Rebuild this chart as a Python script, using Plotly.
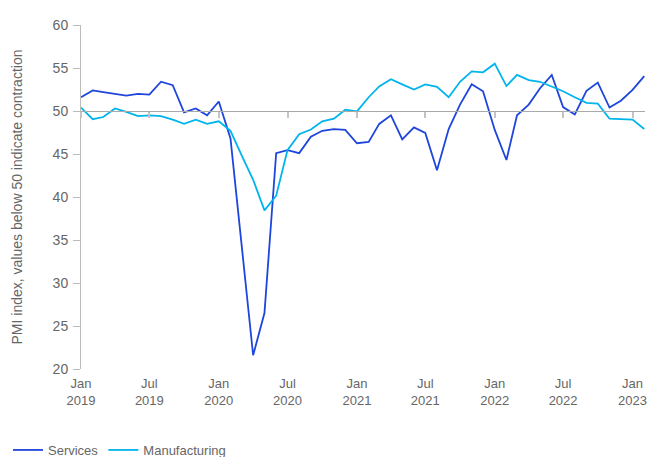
import plotly.graph_objects as go
import pandas as pd

months = pd.date_range("2019-01-01", "2023-02-01", freq="MS")

services = [
    51.6, 52.4, 52.2, 52.0, 51.8, 52.0, 51.9, 53.4, 53.0, 49.85, 50.3, 49.5,
    51.1, 46.8, 35.0, 21.6, 26.5, 45.1, 45.45, 45.1, 47.0, 47.7, 47.9, 47.8,
    46.25, 46.4, 48.5, 49.5, 46.7, 48.1, 47.45, 43.1, 47.9, 50.75, 53.1, 52.3,
    47.8, 44.3, 49.5, 50.75, 52.65, 54.2, 50.45, 49.6, 52.35, 53.3, 50.4, 51.2,
    52.45, 54.05,
]
manufacturing = [
    50.4, 49.05, 49.3, 50.3, 49.9, 49.4, 49.5, 49.4, 49.0, 48.5, 49.0, 48.5,
    48.8, 47.7, 44.9, 42.0, 38.45, 40.15, 45.45, 47.3, 47.85, 48.8, 49.1, 50.15,
    49.95, 51.6, 52.85, 53.7, 53.1, 52.5, 53.1, 52.8, 51.6, 53.4, 54.6, 54.5,
    55.5, 52.9, 54.2, 53.6, 53.4, 52.85, 52.3, 51.6, 50.95, 50.85, 49.1, 49.05,
    49.0, 47.9,
]

tick_dates = pd.date_range("2019-01-01", "2023-01-01", freq="6MS")
tick_labels = [f"{d.strftime('%b')}<br>{d.year}" for d in tick_dates]
y_ticks = [20, 25, 30, 35, 40, 45, 50, 55, 60]

SERV_COLOR = "#1E45DC"
MANU_COLOR = "#00B4EC"
TEXT_COLOR = "#666666"
FONT = "Liberation Sans, Arial, sans-serif"

fig = go.Figure()
fig.add_trace(go.Scatter(x=months, y=services, name="Services", mode="lines",
                         line=dict(color=SERV_COLOR, width=1.8)))
fig.add_trace(go.Scatter(x=months, y=manufacturing, name="Manufacturing", mode="lines",
                         line=dict(color=MANU_COLOR, width=1.8)))
# invisible trace hosting the axis that crosses at 50
fig.add_trace(go.Scatter(x=months, y=services, xaxis="x2", mode="lines",
                         line=dict(width=0, color="rgba(0,0,0,0)"),
                         showlegend=False, hoverinfo="skip"))

x_range = ["2019-01-01", "2023-02-03"]

fig.update_layout(
    width=648, height=457,
    margin=dict(l=71, r=11, t=9, b=96),
    paper_bgcolor="white", plot_bgcolor="white",
    font=dict(family=FONT, size=13, color=TEXT_COLOR),
    showlegend=True,
    legend=dict(orientation="h", xref="paper", yref="container",
                x=-0.1537, y=0.0, xanchor="left", yanchor="bottom",
                font=dict(size=13, color=TEXT_COLOR)),
    xaxis=dict(range=x_range, tickvals=tick_dates, ticktext=tick_labels,
               showgrid=False, zeroline=False, showline=False, ticks="",
               ticklabelstandoff=5, tickfont=dict(size=13)),
    xaxis2=dict(range=x_range, overlaying="x", anchor="free", position=0.75,
                side="bottom", tickvals=tick_dates, showticklabels=False,
                showgrid=False, zeroline=False, showline=True,
                linecolor="#aaaaaa", linewidth=1, ticks="outside",
                ticklen=6, tickcolor="#c4c4c4", tickwidth=1.5),
    yaxis=dict(range=[20, 60], tickvals=y_ticks, showgrid=False, zeroline=False,
               showline=True, linecolor="#bbbbbb", linewidth=1,
               ticks="outside", ticklen=7, tickcolor="#bbbbbb",
               ticklabelstandoff=2, tickfont=dict(size=14),
               title=dict(text="PMI index, values below 50 indicate contraction",
                          font=dict(size=14, color=TEXT_COLOR), standoff=26)),
)

fig.write_html("out.html")
